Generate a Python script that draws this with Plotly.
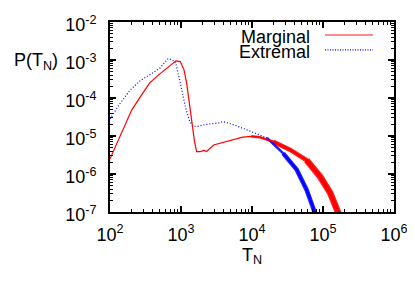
import plotly.graph_objects as go

# ---- data ----
marginal_T = [100, 141, 202, 270, 363, 479, 631, 850, 977, 1100, 1200, 1320, 1410, 1550,
              1660, 1860, 2090, 2290, 2880, 3310, 4370, 5620, 7410, 9770, 12900, 20000,
              34700, 58900, 91200, 126000, 155000, 166000]
marginal_P = [2.5e-6, 1.1e-5, 4.8e-5, 1.1e-4, 2.5e-4, 4.0e-4, 6.2e-4, 9.5e-4, 9.1e-4, 5.6e-4,
              2.5e-4, 7.1e-5, 2.2e-5, 7.1e-6, 3.9e-6, 3.9e-6, 4.2e-6, 3.9e-6, 5.8e-6, 6.2e-6,
              7.1e-6, 8.3e-6, 9.3e-6, 9.8e-6, 9.3e-6, 7.1e-6, 4.3e-6, 2.3e-6, 8.5e-7, 3.2e-7,
              1.4e-7, 9e-8]

extremal_T = [100, 138, 191, 263, 363, 501, 660, 832, 977, 1150, 1320, 1480, 1740, 2040,
              2630, 3390, 3890, 5010, 7410, 11200, 16200, 27500, 42700, 58900, 72400, 77600]
extremal_P = [2.8e-5, 7.1e-5, 1.6e-4, 2.8e-4, 4.1e-4, 6.0e-4, 1.1e-3, 9.1e-4, 2.5e-4, 5.9e-5,
              2.5e-5, 1.8e-5, 1.8e-5, 1.95e-5, 2.1e-5, 2.2e-5, 2.4e-5, 2.1e-5, 1.6e-5, 1.2e-5,
              8.9e-6, 3.5e-6, 1.3e-6, 3.8e-7, 1.35e-7, 9e-8]

series_names = ["Marginal", "Extremal"]
x_exponents = [2, 3, 4, 5, 6]
y_exponents = [-7, -6, -5, -4, -3, -2]

RED = "#ff0000"
BLUE = "#0000ff"
FONT = "Liberation Sans, Arial, sans-serif"
FS = 18


def tail(T, P, tmin):
    pts = [(t, p) for t, p in zip(T, P) if t >= tmin]
    return [a for a, _ in pts], [b for _, b in pts]


def minor_vals(exps):
    return [m * 10.0 ** e for e in exps[:-1] for m in range(2, 10)]


fig = go.Figure()

# noisy tails drawn as thicker bands (the sampling noise of the original)
for T, P, col, segs in [
    (marginal_T, marginal_P, RED, [(9770, 2.5), (20000, 4.5), (58900, 6.5)]),
    (extremal_T, extremal_P, BLUE, [(16200, 2.5), (27500, 4.5)]),
]:
    for tmin, w in segs:
        tx, ty = tail(T, P, tmin)
        fig.add_trace(go.Scatter(x=tx, y=ty, mode="lines", showlegend=False,
                                 line=dict(color=col, width=w), opacity=0.85,
                                 hoverinfo="skip"))

fig.add_trace(go.Scatter(x=extremal_T, y=extremal_P, mode="lines", name=series_names[1],
                         line=dict(color=BLUE, width=1.2, dash="1px,2px"), showlegend=False))
fig.add_trace(go.Scatter(x=marginal_T, y=marginal_P, mode="lines", name=series_names[0],
                         line=dict(color=RED, width=1.2), showlegend=False))

axis_common = dict(
    type="log", showgrid=False, zeroline=False, showline=True, linecolor="black",
    linewidth=2, mirror="allticks", ticks="inside", ticklen=6, tickwidth=1.5,
    tickcolor="black", tickfont=dict(family=FONT, size=FS, color="black"),
    automargin=False,
)

fig.update_xaxes(range=[2, 6], tickmode="array",
                 tickvals=[10.0 ** e for e in x_exponents],
                 ticktext=[f"10<sup>{e}</sup>" for e in x_exponents],
                 minor=dict(ticks="inside", ticklen=3, tickwidth=1, tickcolor="black",
                            tickmode="array", tickvals=minor_vals(x_exponents)),
                 ticklabelstandoff=5,
                 title=dict(text="T<sub>N</sub>", font=dict(family=FONT, size=FS, color="black"),
                            standoff=4),
                 **axis_common)
fig.update_yaxes(range=[-7, -2], tickmode="array",
                 tickvals=[10.0 ** e for e in y_exponents],
                 ticktext=[f"10<sup>{e}</sup>" for e in y_exponents],
                 minor=dict(ticks="inside", ticklen=3, tickwidth=1, tickcolor="black",
                            tickmode="array", tickvals=minor_vals(y_exponents)),
                 ticklabelstandoff=8, ticklabelshift=3, **axis_common)

# legend (gnuplot style: text right-aligned, sample line to its right)
legend_rows = [(series_names[0], RED, "solid", 0.932), (series_names[1], BLUE, "1px,1.5px", 0.853)]
for name, col, dash, yp in legend_rows:
    fig.add_annotation(text=name, xref="paper", yref="paper", x=0.711, y=yp,
                       xanchor="right", yanchor="middle", yshift=-2, showarrow=False,
                       font=dict(family=FONT, size=FS, color="black"))
    fig.add_shape(type="line", xref="paper", yref="paper", x0=0.757, x1=0.926, y0=yp, y1=yp,
                  line=dict(color=col, width=1.5 if dash == "solid" else 1.2, dash=dash),
                  opacity=0.6 if dash == "solid" else 1)

fig.add_annotation(text="P(T<sub>N</sub>)", xref="paper", yref="paper", x=-0.176, y=0.80,
                   xanchor="right", yanchor="middle", yshift=-2, showarrow=False,
                   font=dict(family=FONT, size=FS, color="black"))

# page body adds an 8px offset, so the figure is sized/margined to compensate
fig.update_layout(
    width=407, height=283,
    margin=dict(l=102, r=21, t=14, b=79),
    paper_bgcolor="white", plot_bgcolor="white",
    showlegend=False,
    font=dict(family=FONT, size=FS, color="black"),
)

fig.write_html("out.html")
